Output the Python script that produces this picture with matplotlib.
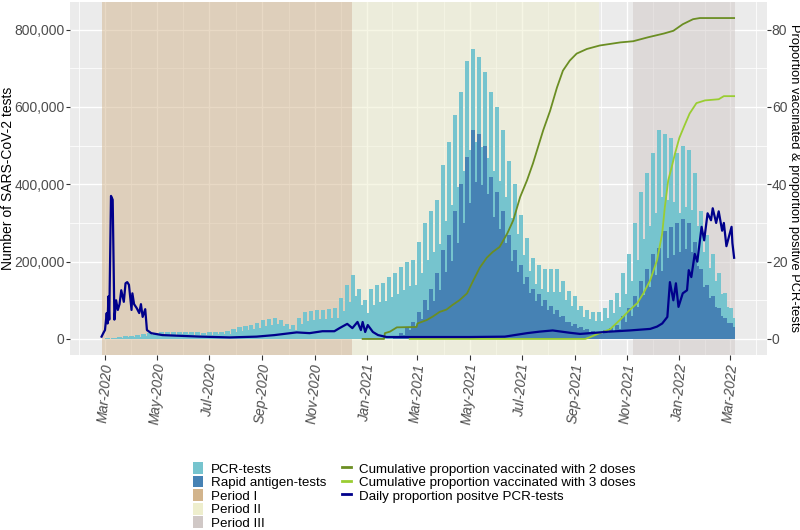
import numpy as np
import pandas as pd
import matplotlib
matplotlib.use("Agg")
import matplotlib.pyplot as plt
from matplotlib.patches import Patch
from matplotlib.lines import Line2D

plt.rcParams['font.family'] = ['Liberation Sans', 'DejaVu Sans']

# ---------------- data ----------------
week0 = "2020-02-24"          # Monday of first week
data_start, data_end = "2020-02-26", "2022-03-07"

# total daily tests (PCR + rapid), weekday level and weekend level, per week
total_hi = [500, 1500, 3000, 5000, 7000,
            8000, 9000, 12000, 15000, 16000, 17000, 17000,
            17000, 18000, 18000, 17000, 17000, 16000, 17000, 18000, 19000, 20000,
            25000, 30000, 33000, 37000, 42000, 48000,
            52000, 55000, 50000, 38000, 35000,
            55000, 70000, 72000, 75000, 76000, 78000, 80000, 105000, 140000, 165000,
            130000, 100000, 130000, 140000, 145000, 160000, 170000,
            185000, 200000, 205000, 250000, 300000, 330000, 360000, 450000, 510000, 580000,
            640000, 720000, 750000, 730000, 690000, 640000, 600000, 540000, 460000, 400000,
            320000, 260000, 210000, 190000, 180000, 180000, 180000, 150000, 125000, 110000,
            85000, 75000, 70000, 70000, 80000, 100000, 120000, 170000, 220000, 300000,
            380000, 430000, 480000, 540000, 530000, 520000, 480000, 500000, 490000, 430000,
            330000, 270000, 220000, 170000, 120000, 80000]
total_lo = [350, 1000, 2000, 3400, 4800,
            5400, 6100, 8200, 10000, 11000, 11500, 11500,
            11500, 12000, 12000, 11500, 11500, 11000, 11500, 12000, 13000, 13500,
            17000, 20000, 22500, 25000, 28500, 32500,
            35000, 37500, 34000, 26000, 24000,
            37500, 47500, 49000, 51000, 52000, 53000, 54500, 71500, 95000, 112000,
            88000, 68000, 88000, 95000, 98500, 109000, 115500,
            126000, 136000, 139000, 170000, 204000, 224000, 245000, 306000, 347000, 394000,
            435000, 490000, 510000, 496000, 469000, 435000, 408000, 367000, 313000, 272000,
            218000, 177000, 143000, 129000, 122000, 122000, 122000, 102000, 85000, 75000,
            58000, 51000, 47500, 47500, 54500, 68000, 81500, 115500, 150000, 204000,
            258000, 292000, 326000, 367000, 360000, 354000, 326000, 340000, 333000, 292000,
            224000, 184000, 150000, 115500, 81500, 54500]
rapid_hi = [0] * 49 + [5000, 15000, 30000, 45000, 70000, 100000, 130000, 170000, 230000, 270000,
                       330000, 400000, 470000, 540000, 530000, 500000, 420000, 380000, 330000, 270000,
                       230000, 190000, 160000, 130000, 115000, 100000, 85000, 75000, 60000, 45000,
                       38000, 30000, 25000, 20000, 18000, 22000, 28000, 35000, 60000, 80000,
                       110000, 150000, 180000, 220000, 235000, 280000, 290000, 300000, 310000, 300000,
                       250000, 180000, 140000, 110000, 80000, 55000, 40000]
rapid_lo = [0] * 49 + [3750, 11250, 22500, 34000, 52500, 75000, 97500, 127500, 172500, 202500,
                       247500, 300000, 352500, 405000, 397500, 375000, 315000, 285000, 247500, 202500,
                       172500, 142500, 120000, 97500, 86000, 75000, 64000, 56000, 45000, 34000,
                       28500, 22500, 19000, 15000, 13500, 16500, 21000, 26000, 45000, 60000,
                       82500, 112500, 135000, 165000, 176000, 210000, 217500, 225000, 232500, 225000,
                       187500, 135000, 105000, 82500, 60000, 41000, 30000]

pos_dates = ["2020-02-26", "2020-02-28", "2020-03-01", "2020-03-03", "2020-03-04", "2020-03-05",
             "2020-03-06", "2020-03-08", "2020-03-10", "2020-03-12", "2020-03-14", "2020-03-16",
             "2020-03-18", "2020-03-20", "2020-03-23", "2020-03-25", "2020-03-27", "2020-03-29",
             "2020-04-01", "2020-04-02", "2020-04-04", "2020-04-07", "2020-04-10", "2020-04-12",
             "2020-04-14", "2020-04-17", "2020-04-19", "2020-04-24", "2020-05-07", "2020-06-20",
             "2020-07-25", "2020-08-25", "2020-09-15", "2020-10-11", "2020-10-26", "2020-11-10",
             "2020-11-24", "2020-11-30", "2020-12-09", "2020-12-15", "2020-12-21", "2020-12-25",
             "2020-12-27", "2020-12-30", "2021-01-02", "2021-01-08", "2021-01-14", "2021-01-24",
             "2021-02-08", "2021-05-01", "2021-06-11", "2021-07-07", "2021-07-22", "2021-08-06",
             "2021-08-26", "2021-09-07", "2021-09-19", "2021-10-12", "2021-11-04", "2021-11-28",
             "2021-12-06", "2021-12-12", "2021-12-18", "2021-12-21", "2021-12-25", "2021-12-28",
             "2021-12-31", "2022-01-05", "2022-01-10", "2022-01-12", "2022-01-15", "2022-01-19",
             "2022-01-22", "2022-01-27", "2022-01-30", "2022-02-03", "2022-02-07", "2022-02-09",
             "2022-02-13", "2022-02-16", "2022-02-20", "2022-02-22", "2022-02-25", "2022-03-03",
             "2022-03-04", "2022-03-06"]
pos_vals = [0.6, 1.5, 2.3, 6.7, 4.0, 11.0,
            5.0, 37.0, 36.0, 5.0, 10.0, 7.5,
            9.0, 12.6, 9.6, 14.4, 14.7, 14.0,
            7.5, 11.8, 9.0, 8.0, 6.7, 9.0,
            5.7, 7.7, 2.3, 1.5, 1.0, 0.6,
            0.4, 0.6, 1.0, 1.7, 1.5, 2.0,
            2.0, 2.8, 3.9, 2.8, 4.4, 2.3,
            4.4, 1.8, 3.6, 1.8, 1.0, 0.5,
            0.5, 0.5, 0.6, 1.5, 1.9, 2.2,
            1.6, 1.3, 1.5, 1.9, 2.2, 2.6,
            3.2, 4.0, 5.7, 14.7, 10.0, 14.4,
            8.3, 11.8, 12.6, 17.8, 16.0, 22.0,
            20.0, 29.0, 25.5, 32.5, 30.7, 33.8,
            30.0, 33.0, 28.0, 30.0, 24.0, 29.0,
            24.8, 21.0]

dose2_dates = ["2020-12-27", "2021-01-21", "2021-01-22", "2021-01-28", "2021-02-05", "2021-02-28",
               "2021-03-01", "2021-03-12", "2021-03-19", "2021-03-27", "2021-04-04", "2021-04-11",
               "2021-04-19", "2021-04-28", "2021-05-05", "2021-05-13", "2021-05-21", "2021-05-28",
               "2021-06-05", "2021-06-14", "2021-06-21", "2021-06-29", "2021-07-07", "2021-07-14",
               "2021-07-26", "2021-08-03", "2021-08-11", "2021-08-18", "2021-08-26", "2021-09-03",
               "2021-09-15", "2021-09-30", "2021-10-24", "2021-11-08", "2021-11-25", "2021-12-14",
               "2021-12-25", "2022-01-05", "2022-01-17", "2022-01-25", "2022-03-06"]
dose2_vals = [0.0, 0.0, 1.5, 1.9, 3.0, 3.1,
              4.0, 4.9, 5.8, 7.0, 7.6, 8.8,
              10.0, 11.8, 15.0, 18.5, 21.0, 22.5,
              23.8, 27.3, 30.7, 36.7, 41.0, 45.4,
              54.0, 59.0, 65.0, 69.4, 72.0, 73.8,
              75.0, 75.9, 76.7, 77.0, 78.0, 79.0,
              79.7, 81.4, 82.7, 83.0, 83.0]

dose3_dates = ["2021-02-20", "2021-09-13", "2021-09-19", "2021-09-30", "2021-10-12", "2021-10-24",
               "2021-11-04", "2021-11-13", "2021-11-20", "2021-11-28", "2021-12-06", "2021-12-12",
               "2021-12-15", "2021-12-19", "2021-12-23", "2021-12-27", "2022-01-01", "2022-01-07",
               "2022-01-13", "2022-01-21", "2022-01-31", "2022-02-16", "2022-02-22", "2022-03-06"]
dose3_vals = [0.0, 0.0, 0.5, 1.5, 2.5, 5.0,
              7.5, 9.3, 11.8, 15.2, 20.4, 27.3,
              34.0, 41.0, 44.4, 48.0, 52.0, 55.2,
              58.3, 61.0, 61.7, 62.0, 62.8, 62.8]

period_labels = ["Period I", "Period II", "Period III"]
period_starts = ["2020-02-26", "2020-12-15", "2021-11-08"]
period_ends = ["2020-12-15", "2021-09-29", "2022-03-07"]

x_tick_dates = ["2020-03-01", "2020-05-01", "2020-07-01", "2020-09-01", "2020-11-01",
                "2021-01-01", "2021-03-01", "2021-05-01", "2021-07-01", "2021-09-01",
                "2021-11-01", "2022-01-01", "2022-03-01"]
x_tick_labels = ["Mar-2020", "May-2020", "Jul-2020", "Sep-2020", "Nov-2020", "Jan-2021",
                 "Mar-2021", "May-2021", "Jul-2021", "Sep-2021", "Nov-2021", "Jan-2022", "Mar-2022"]
y_left_ticks = [0, 200000, 400000, 600000, 800000]
y_left_labels = ["0", "200,000", "400,000", "600,000", "800,000"]
y_right_ticks = [0, 20, 40, 60, 80]

# ---------------- styles ----------------
c_pcr = "#76C4CE"
c_rapid = "#4682B4"
period_colors = ["#D2B48C", "#EEEECD", "#D0C8C6"]
c_d2 = "#6B8E23"
c_d3 = "#9ACD32"
c_pos = "#00008B"
grey_txt = "#4D4D4D"

# ---------------- expand to daily ----------------
dates = pd.date_range(data_start, data_end, freq="D")
wk = np.clip((dates - pd.Timestamp(week0)).days // 7, 0, len(total_hi) - 1)
weekend = np.asarray(dates.weekday >= 5)
total = np.where(weekend, np.array(total_lo)[wk], np.array(total_hi)[wk])
rapid = np.where(weekend, np.array(rapid_lo)[wk], np.array(rapid_hi)[wk])
pcr = total - rapid

# ---------------- figure ----------------
W, H = 800, 530
fig = plt.figure(figsize=(8, 5.3), dpi=100)
ax = fig.add_axes([70 / W, 1 - 355 / H, 697 / W, 353 / H])
ax.set_facecolor("#EBEBEB")
for s in ax.spines.values():
    s.set_visible(False)

xmin, xmax = pd.Timestamp("2020-01-20 03:00"), pd.Timestamp("2022-04-13 10:00")
ax.set_xlim(xmin, xmax)
ax.set_ylim(-41500, 871500)

# grid
majors = pd.date_range("2020-01-01", "2022-05-01", freq="2MS")
minors = majors[:-1] + (majors[1:] - majors[:-1]) / 2
for d in minors:
    ax.axvline(d, color="white", lw=0.55, zorder=0.3)
for d in majors:
    ax.axvline(d, color="white", lw=1.0, zorder=0.3)
for y in [100000, 300000, 500000, 700000]:
    ax.axhline(y, color="white", lw=0.55, zorder=0.3)
for y in y_left_ticks:
    ax.axhline(y, color="white", lw=1.0, zorder=0.3)

# periods
for s, e, c in zip(period_starts, period_ends, period_colors):
    ax.axvspan(pd.Timestamp(s), pd.Timestamp(e), color=c, alpha=0.5, lw=0, zorder=0.5)

# bars (PCR stacked on top of rapid antigen tests)
ax.bar(dates, pcr, bottom=rapid, width=1.0, color=c_pcr, linewidth=0, zorder=1)
ax.bar(dates, rapid, width=1.0, color=c_rapid, linewidth=0, zorder=1.1)

ax.set_xticks(pd.to_datetime(x_tick_dates))
ax.set_xticklabels(x_tick_labels, rotation=85, ha="center", va="top",
                   fontsize=10, color=grey_txt, style="italic")
ax.set_yticks(y_left_ticks)
ax.set_yticklabels(y_left_labels, fontsize=10, color=grey_txt)
ax.tick_params(axis="x", length=3.5, width=0.8, color="#333333", pad=2)
ax.tick_params(axis="y", length=3, width=0.8, color="#333333", pad=0.8)
ax.set_ylabel("Number of SARS-CoV-2 tests", fontsize=10, color="black", va="center")
ax.yaxis.set_label_coords(-61.5 / 697, 0.5)

# secondary axis
ax2 = ax.twinx()
ax2.set_ylim(-4.15, 87.15)
ax2.set_xlim(xmin, xmax)
for s in ax2.spines.values():
    s.set_visible(False)
ax2.plot(pd.to_datetime(dose2_dates), dose2_vals, color=c_d2, lw=1.3, zorder=3)
ax2.plot(pd.to_datetime(dose3_dates), dose3_vals, color=c_d3, lw=1.3, zorder=3)
ax2.plot(pd.to_datetime(pos_dates), pos_vals, color=c_pos, lw=1.6, zorder=4)
ax2.set_yticks(y_right_ticks)
ax2.set_yticklabels([str(v) for v in y_right_ticks], fontsize=10, color=grey_txt)
ax2.tick_params(axis="y", length=3, width=0.8, color="#333333", pad=0.5)
ax2.set_ylabel("Proportion vaccinated & proportion positive PCR-tests",
               fontsize=9.3, color="black", rotation=270, va="center")
ax2.yaxis.set_label_coords((793.5 - 70) / 697, 0.5)

# legends
h1 = [Patch(facecolor=c_pcr, edgecolor="none"), Patch(facecolor=c_rapid, edgecolor="none")] + \
     [Patch(facecolor=c, edgecolor="none") for c in period_colors]
l1 = ["PCR-tests", "Rapid antigen-tests"] + period_labels
h2 = [Line2D([], [], color=c_d2, lw=2), Line2D([], [], color=c_d3, lw=2), Line2D([], [], color=c_pos, lw=2)]
l2 = ["Cumulative proportion vaccinated with 2 doses",
      "Cumulative proportion vaccinated with 3 doses",
      "Daily proportion positve PCR-tests"]
common = dict(frameon=False, fontsize=9.6, borderpad=0, borderaxespad=0,
              labelspacing=0.0, handletextpad=0.6, loc="upper left")
fig.legend(h1, l1, bbox_to_anchor=(193 / W, 1 - 462 / H), handlelength=0.72, handleheight=1.0, **common)
fig.legend(h2, l2, bbox_to_anchor=(342 / W, 1 - 462 / H), handlelength=0.68, handleheight=1.0, **common)

fig.savefig("out.png", dpi=100)
